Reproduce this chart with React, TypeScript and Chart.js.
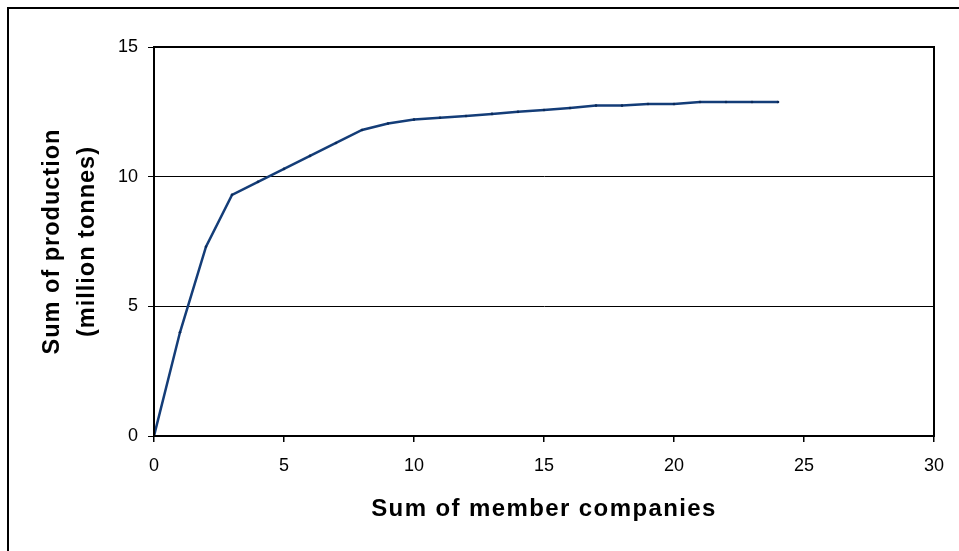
import React, { useEffect, useRef } from "react";
import { Chart, registerables, LinearScale } from "chart.js";

Chart.register(...registerables);

// Cumulative number of member companies and their cumulative output
const companies = [0, 1, 2, 3, 4, 5, 6, 7, 8, 9, 10, 11, 12, 13, 14, 15, 16, 17, 18, 19, 20, 21, 22, 23, 24];
const production = [
  0, 4.0, 7.3, 9.3, 9.8, 10.3, 10.8, 11.3, 11.8, 12.05, 12.2, 12.27, 12.34, 12.42, 12.5, 12.57, 12.65,
  12.74, 12.74, 12.8, 12.8, 12.88, 12.88, 12.88, 12.88,
];

const xTitle = "Sum of member companies";
const yTitle = ["Sum of production", "(million tonnes)"];
const xRange = [0, 30];
const yRange = [0, 15];
const tickStep = 5;

const W = 952;
const H = 544;
const FONT = "'Liberation Sans', Arial, sans-serif";

// Axis titles are set with a little extra tracking
const TITLE_TRACKING: Record<string, number> = { x: 1.4, y: 1.0 };

class TrackedLinearScale extends (LinearScale as any) {
  static id = "trackedLinear";
  static defaults = (LinearScale as any).defaults;
  drawTitle() {
    const ctx = (this as any).ctx;
    ctx.save();
    ctx.letterSpacing = `${TITLE_TRACKING[(this as any).id] ?? 0}px`;
    super.drawTitle();
    ctx.letterSpacing = "0px";
    ctx.restore();
  }
}
Chart.register(TrackedLinearScale as any);

// Outer frame (left/top edges) and the full box around the plot area
const framePlugin = {
  id: "frames",
  afterDraw(chart: any) {
    const { ctx, chartArea: a } = chart;
    ctx.save();
    ctx.fillStyle = "#000";
    ctx.fillRect(0, 0, 2, chart.height);
    ctx.fillRect(0, 0, chart.width, 2);
    ctx.strokeStyle = "#000";
    ctx.lineWidth = 2;
    ctx.strokeRect(a.left, a.top, a.right - a.left, a.bottom - a.top);
    ctx.restore();
  },
};

export default function App() {
  const ref = useRef<HTMLCanvasElement | null>(null);

  useEffect(() => {
    if (!ref.current) return;
    const chart = new Chart(ref.current, {
      type: "line",
      data: {
        datasets: [
          {
            data: companies.map((c, i) => ({ x: c, y: production[i] })),
            borderColor: "#143d78",
            borderWidth: 2.5,
            pointRadius: 1.3,
            pointBackgroundColor: "#0a2a5a",
            pointBorderWidth: 0,
            tension: 0,
            fill: false,
          },
        ],
      },
      plugins: [framePlugin],
      options: {
        responsive: false,
        animation: false,
        layout: { padding: { top: 40, right: 25, left: 0, bottom: 0 } },
        plugins: { legend: { display: false }, tooltip: { enabled: false } },
        scales: {
          x: {
            type: "trackedLinear",
            position: "bottom",
            min: xRange[0],
            max: xRange[1],
            afterFit: (s: any) => {
              s.height = H - 429;
            },
            ticks: {
              stepSize: tickStep,
              color: "#000",
              padding: 13,
              maxRotation: 0,
              font: { family: FONT, size: 18 },
            },
            grid: {
              drawOnChartArea: false,
              drawTicks: true,
              tickLength: 6,
              color: "#000",
              lineWidth: 1.5,
            },
            border: { display: true, color: "#000", width: 2 },
            title: {
              display: true,
              text: xTitle,
              color: "#000",
              padding: { top: 0, bottom: 27 },
              font: { family: FONT, size: 24, weight: "bold", lineHeight: 1.2 },
            },
          },
          y: {
            type: "trackedLinear",
            position: "left",
            min: yRange[0],
            max: yRange[1],
            afterFit: (s: any) => {
              s.width = 147;
            },
            ticks: {
              stepSize: tickStep,
              color: "#000",
              padding: 10,
              font: { family: FONT, size: 18 },
            },
            grid: {
              drawOnChartArea: true,
              drawTicks: true,
              tickLength: 6,
              color: "#000",
              lineWidth: 1,
            },
            border: { display: true, color: "#000", width: 2 },
            title: {
              display: true,
              text: yTitle,
              color: "#000",
              padding: { top: 28, bottom: 0 },
              font: { family: FONT, size: 23.5, weight: "bold", lineHeight: "35px" },
            },
          },
        },
      },
    });
    return () => chart.destroy();
  }, []);

  return (
    <div style={{ position: "absolute", left: 7, top: 7, width: W, height: H, background: "#fff" }}>
      <canvas ref={ref} width={W} height={H} style={{ display: "block" }} />
    </div>
  );
}
